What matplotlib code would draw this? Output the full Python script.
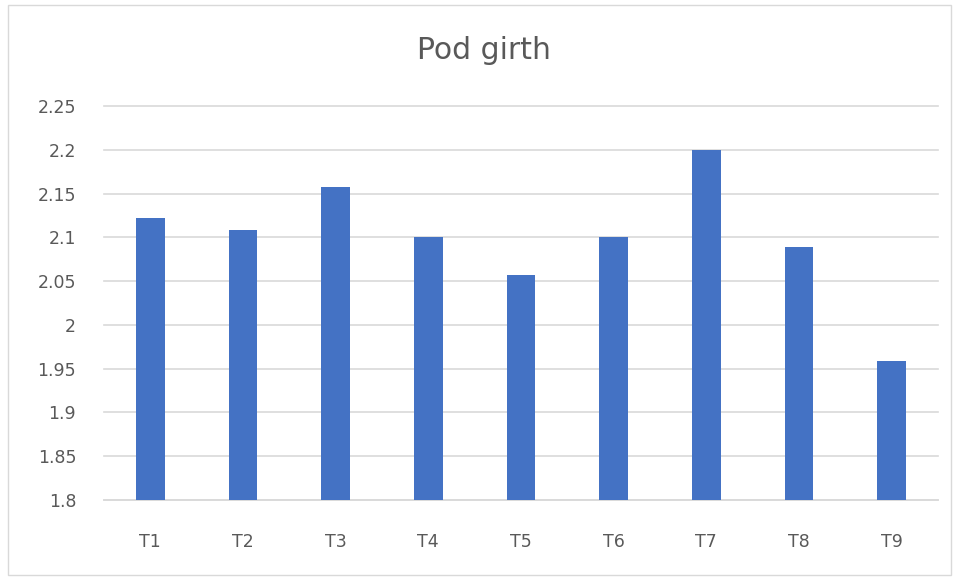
import matplotlib.pyplot as plt
from matplotlib.patches import Rectangle

categories = ['T1', 'T2', 'T3', 'T4', 'T5', 'T6', 'T7', 'T8', 'T9']
girth = [2.122, 2.108, 2.158, 2.100, 2.057, 2.100, 2.200, 2.089, 1.959]
yticks = [1.8, 1.85, 1.9, 1.95, 2.0, 2.05, 2.1, 2.15, 2.2, 2.25]
ylabels = ['1.8', '1.85', '1.9', '1.95', '2', '2.05', '2.1', '2.15', '2.2', '2.25']

text_col = '#595959'
grid_col = '#D9D9D9'

fig = plt.figure(figsize=(9.59, 5.79), dpi=100)
ax = fig.add_axes([0.1084, 0.1364, 0.8696, 0.6806])

x = range(len(categories))
ax.bar(x, girth, width=0.31, color='#4472C4', zorder=3)

ax.set_xlim(-0.5, len(categories) - 0.5)
ax.set_ylim(1.8, 2.25)
ax.set_yticks(yticks)
ax.set_yticklabels(ylabels)
ax.set_xticks(list(x))
ax.set_xticklabels(categories)

ax.grid(axis='y', color=grid_col, linewidth=1.2, zorder=0)
for gl in ax.get_ygridlines():
    gl.set_clip_on(False)
for s in ['top', 'right', 'left']:
    ax.spines[s].set_visible(False)
ax.spines['bottom'].set_color(grid_col)
ax.spines['bottom'].set_linewidth(1.2)
ax.tick_params(axis='both', length=0, labelsize=12.5, labelcolor=text_col)
ax.tick_params(axis='y', pad=20)
ax.tick_params(axis='x', pad=24)

fig.text(0.505, 0.913, 'Pod girth', ha='center', va='center',
         fontsize=21.5, color=text_col)

# chart border
fig.patches.append(Rectangle((8 / 959, 4 / 579), 943 / 959, 570 / 579,
                             transform=fig.transFigure, fill=False,
                             edgecolor=grid_col, linewidth=1))

fig.savefig('out.png', dpi=100)
